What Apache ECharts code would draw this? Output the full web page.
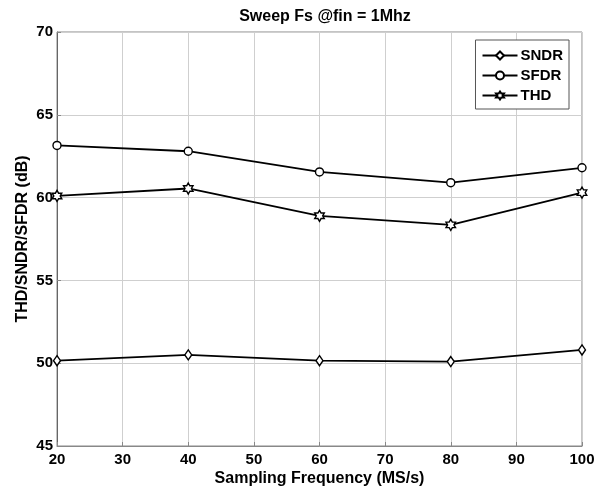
<!DOCTYPE html>
<html>
<head>
<meta charset="utf-8">
<script src="https://cdn.jsdelivr.net/npm/echarts@6/dist/echarts.min.js"></script>
<style>
  html, body { margin: 0; padding: 0; background: #fff; }
  #chart { width: 608px; height: 492px; }
</style>
</head>
<body>
<div id="chart"></div>
<script>
var freqs = [20, 40, 60, 80, 100];
var sndr = [50.15, 50.5, 50.15, 50.1, 50.8];
var sfdr = [63.15, 62.8, 61.55, 60.9, 61.8];
var thd = [60.1, 60.55, 58.9, 58.35, 60.3];
var xTicks = [20, 30, 40, 50, 60, 70, 80, 90, 100];
var yTicks = [45, 50, 55, 60, 65, 70];

// six-pointed star outline (MATLAB 'h' marker)
var hexagram = 'path://M0,-10L2.887,-5L8.66,-5L5.77,0L8.66,5L2.887,5L0,10L-2.887,5L-8.66,5L-5.77,0L-8.66,-5L-2.887,-5Z';

var chart = echarts.init(document.getElementById('chart'), null, { renderer: 'canvas' });

var font = '"Liberation Sans", Arial, sans-serif';

function pairs(vals) {
  return freqs.map(function (f, i) { return [f, vals[i]]; });
}

function lineSeries(name, vals, symbol, size) {
  return {
    name: name,
    type: 'line',
    data: pairs(vals),
    symbol: symbol,
    symbolSize: size,
    symbolKeepAspect: true,
    showAllSymbol: true,
    lineStyle: { color: '#000', width: 1.8 },
    itemStyle: { color: '#fff', borderColor: '#000', borderWidth: 1.4 },
    emphasis: { disabled: true },
    z: 3
  };
}

var option = {
  animation: false,
  backgroundColor: '#fff',
  title: {
    text: 'Sweep Fs @fin = 1Mhz',
    left: 320,
    textAlign: 'center',
    top: 4,
    textStyle: { fontFamily: font, fontSize: 16, fontWeight: 'bold', color: '#000' }
  },
  legend: {
    right: 39,
    top: 40,
    orient: 'vertical',
    itemWidth: 35,
    itemHeight: 10,
    itemGap: 5,
    padding: [8, 6, 6, 6],
    backgroundColor: '#fff',
    borderColor: '#555',
    borderWidth: 1,
    borderRadius: 0,
    textStyle: { fontFamily: font, fontSize: 15, fontWeight: 'bold', color: '#000', padding: [0, 0, 0, -2] },
    data: ['SNDR', 'SFDR', 'THD']
  },
  grid: {
    left: 57,
    right: 26,
    top: 32,
    bottom: 45,
    show: true,
    borderColor: '#888',
    borderWidth: 1
  },
  xAxis: {
    type: 'value',
    min: 20,
    max: 100,
    interval: 10,
    name: 'Sampling Frequency (MS/s)',
    nameLocation: 'middle',
    nameGap: 25,
    nameMoveOverlap: false,
    nameTextStyle: { fontFamily: font, fontSize: 16, fontWeight: 'bold', color: '#000' },
    axisLine: { show: true, lineStyle: { color: '#888' } },
    axisTick: { show: true, inside: true, length: 4, lineStyle: { color: '#888' } },
    axisLabel: {
      fontFamily: font, fontSize: 15, fontWeight: 'bold', color: '#000', margin: 6,
      formatter: function (v) { return xTicks.indexOf(v) >= 0 ? String(v) : ''; }
    },
    splitLine: { show: true, lineStyle: { color: '#cfcfcf', width: 1 } }
  },
  yAxis: {
    type: 'value',
    min: 45,
    max: 70,
    interval: 5,
    name: 'THD/SNDR/SFDR (dB)',
    nameLocation: 'middle',
    nameGap: 26,
    nameMoveOverlap: false,
    nameTextStyle: { fontFamily: font, fontSize: 16, fontWeight: 'bold', color: '#000' },
    axisLine: { show: true, lineStyle: { color: '#666' } },
    axisTick: { show: true, inside: true, length: 4, lineStyle: { color: '#888' } },
    axisLabel: {
      fontFamily: font, fontSize: 15, fontWeight: 'bold', color: '#000', margin: 4,
      formatter: function (v) { return yTicks.indexOf(v) >= 0 ? String(v) : ''; }
    },
    splitLine: { show: true, lineStyle: { color: '#cfcfcf', width: 1 } }
  },
  series: [
    lineSeries('SNDR', sndr, 'diamond', [7, 10]),
    lineSeries('SFDR', sfdr, 'circle', 8),
    lineSeries('THD', thd, hexagram, 11)
  ]
};

chart.setOption(option);
</script>
</body>
</html>
